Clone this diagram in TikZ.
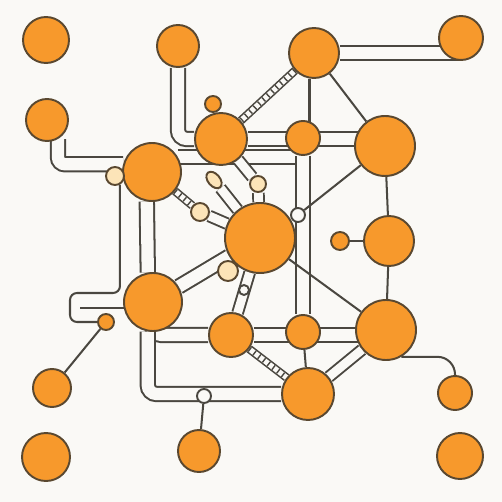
\documentclass[tikz,border=0pt]{standalone}
\usepackage{tikz}
\usetikzlibrary{backgrounds,shapes.geometric}
\definecolor{paper}{HTML}{FAF9F6}
\definecolor{ink}{HTML}{4A4740}
\definecolor{amber}{HTML}{F7992C}
\definecolor{cream}{HTML}{FCE4B8}
\definecolor{rim}{HTML}{5A4830}
\tikzstyle{atom}=[circle,draw=rim,line width=1.1pt,fill=amber,inner sep=0pt]
\tikzstyle{bead}=[circle,draw=rim,line width=1.1pt,fill=cream,inner sep=0pt]
\tikzstyle{hole}=[circle,draw=ink,line width=1.1pt,fill=paper,inner sep=0pt]
\tikzstyle{pipe}=[draw=ink,line width=1.15pt,double=paper,double distance=7pt]
\tikzstyle{thinpipe}=[draw=ink,line width=1.1pt,double=paper,double distance=5pt]
\tikzstyle{wire}=[draw=ink,line width=1.15pt]
\tikzstyle{chainrail}=[draw=ink,line width=0.9pt,double=paper,double distance=3pt]
\tikzstyle{rungs}=[draw=ink,line width=3pt,dash pattern=on 0.8pt off 2.6pt]

\begin{document}
\begin{tikzpicture}[x=0.02cm,y=-0.02cm]
    \useasboundingbox (0,0) rectangle (502,502);
    % corners
    \node [atom,minimum size=0.92cm] (tl) at (46,40) {};
    \node [atom,minimum size=0.88cm] (tr) at (461,38) {};
    \node [atom,minimum size=0.96cm] (bl) at (46,457) {};
    \node [atom,minimum size=0.92cm] (br) at (460,456) {};
    % top row
    \node [atom,minimum size=0.84cm] (top) at (178,46) {};
    \node [atom,minimum size=1.0cm] (topc) at (314,53) {};
    \node [atom,minimum size=0.84cm] (left) at (47,120) {};
    \node [atom,minimum size=1.04cm] (upa) at (221,139) {};
    \node [atom,minimum size=0.32cm] (upadot) at (213,104) {};
    \node [atom,minimum size=0.68cm] (upb) at (303,138) {};
    \node [atom,minimum size=1.2cm] (upc) at (385,146) {};
    % middle row
    \node [atom,minimum size=1.16cm] (midl) at (152,172) {};
    \node [atom,minimum size=1.4cm] (core) at (260,238) {};
    \node [atom,minimum size=1.0cm] (midr) at (389,241) {};
    \node [atom,minimum size=0.36cm] (midrdot) at (340,241) {};
    % lower row
    \node [atom,minimum size=1.16cm] (lowl) at (153,302) {};
    \node [atom,minimum size=0.32cm] (lowldot) at (106,322) {};
    \node [atom,minimum size=0.88cm] (lowa) at (231,335) {};
    \node [atom,minimum size=0.68cm] (lowb) at (303,332) {};
    \node [atom,minimum size=1.2cm] (lowc) at (386,330) {};
    \node [atom,minimum size=0.76cm] (farl) at (52,388) {};
    \node [atom,minimum size=1.04cm] (bot) at (308,394) {};
    \node [atom,minimum size=0.68cm] (farr) at (455,393) {};
    \node [atom,minimum size=0.84cm] (botl) at (199,451) {};
    % beads and holes
    \node [bead,minimum size=0.36cm] (b1) at (115,176) {};
    \node [bead,minimum size=0.36cm] (b2) at (200,212) {};
    \node [bead,minimum size=0.4cm] (b3) at (228,271) {};
    \node [bead,minimum size=0.32cm] (b4) at (258,184) {};
    \node [bead,ellipse,minimum width=0.38cm,minimum height=0.24cm,rotate=-50] (pill) at (214,180) {};
    \node [hole,minimum size=0.28cm] (h1) at (298,215) {};
    \node [hole,minimum size=0.28cm] (h2) at (204,396) {};
    \node [hole,minimum size=0.2cm] (h3) at (244,290) {};
    \coordinate (bk1) at (70,293);
    \coordinate (bk2) at (70,322);
    \coordinate (bk3) at (80,308);

    \begin{scope}[on background layer]
        \fill [paper] (0,0) rectangle (502,502);
        % pipes
        \draw [pipe] (topc) -- (topc -| tr);
        \draw [pipe,rounded corners=5pt] (top) |- (upa);
        \draw [pipe,rounded corners=4pt] (left.-60) |- (midl.165);
        \draw [pipe] (midl.30) -- (midl.30 -| upb);
        \draw [pipe] (upa) -- (upa -| upc);
        \draw [pipe] (upb) -- (lowb);
        \draw [pipe] (midl.-100) -- (lowl.100);
        \draw [pipe] (lowa) -- (lowa -| lowc);
        \draw [pipe,rounded corners=5pt] (lowl) |- (lowa);
        \draw [pipe,rounded corners=5pt] (lowl.-100) |- (bot);
        \draw [pipe] (lowl) -- (core);
        \draw [thinpipe] (b2) -- (core);
        \draw [thinpipe] (pill) -- (core);
        \draw [thinpipe] (upa) -- (b4);
        \draw [thinpipe] (b4) -- (core);
        \draw [thinpipe] (core) -- (lowa);
        \draw [thinpipe] (lowc) -- (bot);
        % chains
        \draw [chainrail] (topc) -- (upa);
        \draw [rungs] (topc) -- (upa);
        \draw [chainrail] (midl) -- (b2);
        \draw [rungs] (midl) -- (b2);
        \draw [chainrail] (lowa) -- (bot);
        \draw [rungs] (lowa) -- (bot);
        % wires
        \draw [wire,rounded corners=4pt] (b1.-60) -- (b1.-60 |- bk1) -- (bk1) -- (bk2) -- (lowldot);
        \draw [wire] (bk3) -- (bk3 -| lowl);
        \draw [wire] (lowldot) -- (farl);
        \draw [wire] (topc.-100) -- (topc.-100 |- upb);
        \draw [wire] (topc) -- (upc);
        \draw [wire] (upc) -- (midr);
        \draw [wire] (midr) -- (lowc);
        \draw [wire] (midrdot) -- (midr);
        \draw [wire] (upc) -- (h1);
        \draw [wire] (core) -- (lowc);
        \draw [wire] (lowb) -- (bot);
        \draw [wire] (h2) -- (botl);
        \draw [wire,rounded corners=10pt] (lowc.-60) -| (farr);
    \end{scope}
\end{tikzpicture}
\end{document}
